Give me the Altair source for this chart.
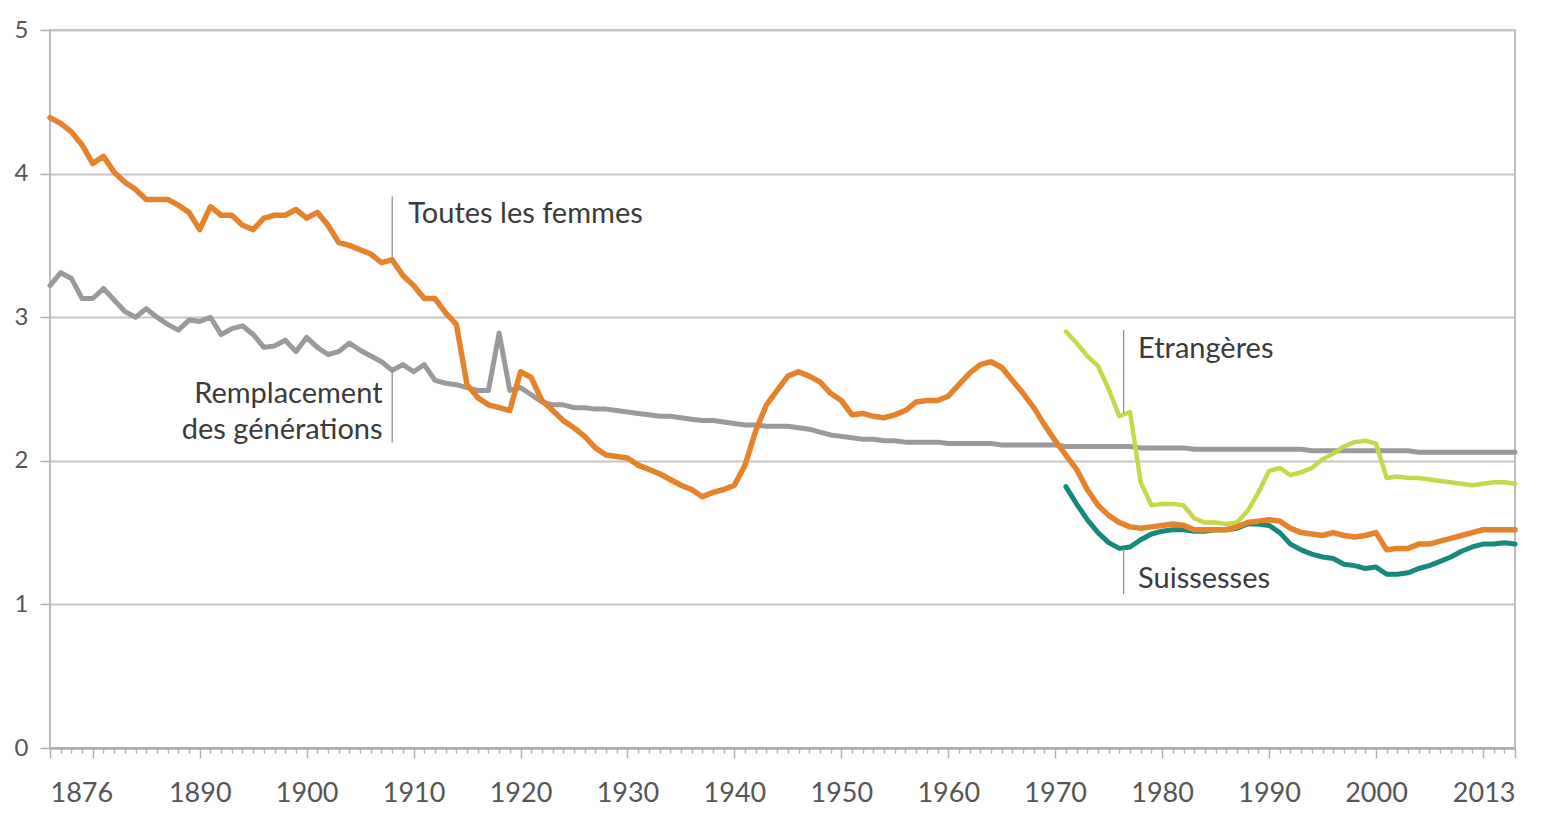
import altair as alt
import pandas as pd

# ---------------- data ----------------
years_all = list(range(1876, 2014))

toutes = [
    4.39, 4.35, 4.29, 4.20, 4.07, 4.12, 4.01, 3.94, 3.89, 3.82,  # 1876-1885
    3.82, 3.82, 3.78, 3.73, 3.61, 3.77, 3.71, 3.71, 3.64, 3.61,  # 1886-1895
    3.69, 3.71, 3.71, 3.75, 3.69, 3.73, 3.64, 3.52, 3.50, 3.47,  # 1896-1905
    3.44, 3.38, 3.40, 3.29, 3.22, 3.13, 3.13, 3.03, 2.95, 2.53,  # 1906-1915
    2.44, 2.39, 2.37, 2.35, 2.62, 2.58, 2.42, 2.35, 2.28, 2.23,  # 1916-1925
    2.17, 2.09, 2.04, 2.03, 2.02, 1.97, 1.94, 1.91, 1.87, 1.83,  # 1926-1935
    1.80, 1.75, 1.78, 1.80, 1.83, 1.97, 2.21, 2.39, 2.49, 2.59,  # 1936-1945
    2.62, 2.59, 2.55, 2.47, 2.42, 2.32, 2.33, 2.31, 2.30, 2.32,  # 1946-1955
    2.35, 2.41, 2.42, 2.42, 2.45, 2.53, 2.61, 2.67, 2.69, 2.65,  # 1956-1965
    2.56, 2.47, 2.37, 2.25, 2.14, 2.04, 1.94, 1.80, 1.69, 1.62,  # 1966-1975
    1.57, 1.54, 1.53, 1.54, 1.55, 1.56, 1.55, 1.52, 1.52, 1.52,  # 1976-1985
    1.52, 1.54, 1.57, 1.58, 1.59, 1.58, 1.53, 1.50, 1.49, 1.48,  # 1986-1995
    1.50, 1.48, 1.47, 1.48, 1.50, 1.38, 1.39, 1.39, 1.42, 1.42,  # 1996-2005
    1.44, 1.46, 1.48, 1.50, 1.52, 1.52, 1.52, 1.52,              # 2006-2013
]

remplacement = [
    3.22, 3.31, 3.27, 3.13, 3.13, 3.20, 3.12, 3.04, 3.00, 3.06,  # 1876-1885
    3.00, 2.95, 2.91, 2.98, 2.97, 3.00, 2.88, 2.92, 2.94, 2.88,  # 1886-1895
    2.79, 2.80, 2.84, 2.76, 2.86, 2.79, 2.74, 2.76, 2.82, 2.77,  # 1896-1905
    2.73, 2.69, 2.63, 2.67, 2.62, 2.67, 2.56, 2.54, 2.53, 2.51,  # 1906-1915
    2.49, 2.49, 2.89, 2.49, 2.51, 2.46, 2.41, 2.39, 2.39, 2.37,  # 1916-1925
    2.37, 2.36, 2.36, 2.35, 2.34, 2.33, 2.32, 2.31, 2.31, 2.30,  # 1926-1935
    2.29, 2.28, 2.28, 2.27, 2.26, 2.25, 2.25, 2.24, 2.24, 2.24,  # 1936-1945
    2.23, 2.22, 2.20, 2.18, 2.17, 2.16, 2.15, 2.15, 2.14, 2.14,  # 1946-1955
    2.13, 2.13, 2.13, 2.13, 2.12, 2.12, 2.12, 2.12, 2.12, 2.11,  # 1956-1965
    2.11, 2.11, 2.11, 2.11, 2.11, 2.10, 2.10, 2.10, 2.10, 2.10,  # 1966-1975
    2.10, 2.10, 2.09, 2.09, 2.09, 2.09, 2.09, 2.08, 2.08, 2.08,  # 1976-1985
    2.08, 2.08, 2.08, 2.08, 2.08, 2.08, 2.08, 2.08, 2.07, 2.07,  # 1986-1995
    2.07, 2.07, 2.07, 2.07, 2.07, 2.07, 2.07, 2.07, 2.06, 2.06,  # 1996-2005
    2.06, 2.06, 2.06, 2.06, 2.06, 2.06, 2.06, 2.06,              # 2006-2013
]

years_recent = list(range(1971, 2014))

etrangeres = [
    2.90, 2.82, 2.73, 2.66, 2.50, 2.31, 2.34, 1.85, 1.69,        # 1971-1979
    1.70, 1.70, 1.69, 1.60, 1.57, 1.57, 1.56, 1.57, 1.65, 1.78,  # 1980-1989
    1.93, 1.95, 1.90, 1.92, 1.95, 2.01, 2.05, 2.10, 2.13, 2.14,  # 1990-1999
    2.12, 1.88, 1.89, 1.88, 1.88, 1.87, 1.86, 1.85, 1.84, 1.83,  # 2000-2009
    1.84, 1.85, 1.85, 1.84,                                      # 2010-2013
]

suissesses = [
    1.82, 1.70, 1.59, 1.50, 1.43, 1.39, 1.40, 1.45, 1.49,        # 1971-1979
    1.51, 1.52, 1.52, 1.51, 1.51, 1.52, 1.52, 1.53, 1.56, 1.56,  # 1980-1989
    1.55, 1.50, 1.42, 1.38, 1.35, 1.33, 1.32, 1.28, 1.27, 1.25,  # 1990-1999
    1.26, 1.21, 1.21, 1.22, 1.25, 1.27, 1.30, 1.33, 1.37, 1.40,  # 2000-2009
    1.42, 1.42, 1.43, 1.42,                                      # 2010-2013
]

label_years = [1876, 1890, 1900, 1910, 1920, 1930, 1940, 1950, 1960, 1970, 1980, 1990, 2000, 2013]

# annotations (text, year, value, align)
ann_text = ["Toutes les femmes", "Remplacement", "des générations", "Etrangères", "Suissesses"]
ann_x = [1909.5, 1907.1, 1907.1, 1977.75, 1977.75]
ann_y = [3.72, 2.465, 2.215, 2.78, 1.18]
ann_align = ["left", "right", "right", "left", "left"]

# leader lines (year, from, to)
lead_x = [1908, 1908, 1976.4, 1976.4]
lead_y = [3.40, 2.63, 2.33, 1.39]
lead_y2 = [3.84, 2.13, 2.91, 1.07]

# ---------------- frames ----------------
df_toutes = pd.DataFrame({"year": years_all, "value": toutes})
df_rempl = pd.DataFrame({"year": years_all, "value": remplacement})
df_etr = pd.DataFrame({"year": years_recent, "value": etrangeres})
df_sui = pd.DataFrame({"year": years_recent, "value": suissesses})
df_ann = pd.DataFrame({"text": ann_text, "x": ann_x, "y": ann_y, "align": ann_align})
df_lead = pd.DataFrame({"x": lead_x, "y": lead_y, "y2": lead_y2})

FONT = "Lato"
label_list = ",".join(str(v) for v in label_years)

x_scale = alt.Scale(domain=[1876, 2013], nice=False, zero=False)
y_scale = alt.Scale(domain=[0, 5], nice=False)

x_axis = alt.Axis(
    title=None,
    values=years_all,
    labelExpr=f"indexof([{label_list}], datum.value) >= 0 ? datum.label : ''",
    format="d",
    labelOverlap=False,
    grid=False,
    tickSize={"condition": {"test": "datum.value % 10 === 0 || datum.value === 1876 || datum.value === 2013", "value": 10}, "value": 5},
    tickColor="#b0b0b0",
    tickWidth=1.5,
    domainColor="#a8a8a8",
    domainWidth=2,
    labelPadding=22,
    labelFont=FONT,
    labelFontSize=27,
    labelColor="#555555",
)

y_axis = alt.Axis(
    title=None,
    values=[0, 1, 2, 3, 4, 5],
    format="d",
    grid=True,
    gridColor="#c6c6c6",
    gridWidth=2,
    tickSize=10,
    tickColor="#b0b0b0",
    tickWidth=1.5,
    domain=False,
    labelPadding=12,
    labelFont=FONT,
    labelFontSize=24,
    labelColor="#555555",
)


def line_layer(df, color, width):
    return alt.Chart(df).mark_line(color=color, strokeWidth=width, strokeJoin="round", strokeCap="round").encode(
        x=alt.X("year:Q", scale=x_scale, axis=x_axis),
        y=alt.Y("value:Q", scale=y_scale, axis=y_axis),
    )


gray = line_layer(df_rempl, "#9a9a9a", 5)
teal = line_layer(df_sui, "#16897a", 5)
yellow = line_layer(df_etr, "#c6d84a", 4.5)
orange = line_layer(df_toutes, "#e5822c", 5.5)

leads = alt.Chart(df_lead).mark_rule(color="#8a8a8a", strokeWidth=1.2).encode(
    x=alt.X("x:Q", scale=x_scale, axis=x_axis),
    y=alt.Y("y:Q", scale=y_scale, axis=y_axis),
    y2="y2:Q",
)

texts_left = alt.Chart(df_ann[df_ann["align"] == "left"]).mark_text(
    align="left", baseline="middle", font=FONT, fontSize=29, color="#3a3a3a"
).encode(
    x=alt.X("x:Q", scale=x_scale, axis=x_axis),
    y=alt.Y("y:Q", scale=y_scale, axis=y_axis),
    text="text:N",
)

texts_right = alt.Chart(df_ann[df_ann["align"] == "right"]).mark_text(
    align="right", baseline="middle", font=FONT, fontSize=29, color="#3a3a3a"
).encode(
    x=alt.X("x:Q", scale=x_scale, axis=x_axis),
    y=alt.Y("y:Q", scale=y_scale, axis=y_axis),
    text="text:N",
)

chart = alt.layer(gray, teal, yellow, orange, leads, texts_left, texts_right).properties(
    width=1465,
    height=718,
    autosize="none",
    padding={"left": 42, "top": 22, "right": 26, "bottom": 60},
    background="white",
).configure_view(stroke="#a8a8a8", strokeWidth=1.5)

chart.save("out.html", embed_options={"renderer": "svg", "actions": False})
